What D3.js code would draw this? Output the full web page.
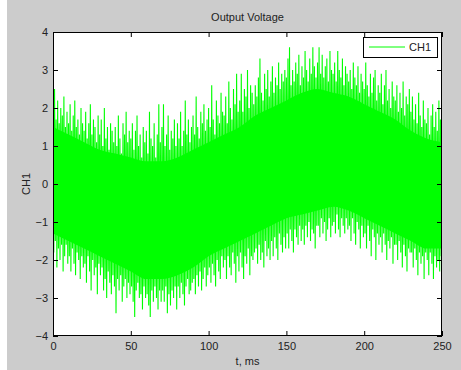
<!DOCTYPE html>
<html><head><meta charset="utf-8">
<script src="https://cdn.jsdelivr.net/npm/d3@7"></script>
<style>
html,body{margin:0;padding:0;background:#cccccc;}
svg{display:block;}
text{font-family:"Liberation Sans",Arial,sans-serif;}
</style></head>
<body><svg id="c" width="461" height="370"></svg>
<script>
const title = "Output Voltage";
const xLabel = "t, ms";
const yLabel = "CH1";
const seriesName = "CH1";
const xTicks = [0, 50, 100, 150, 200, 250];
const yTicks = [-4, -3, -2, -1, 0, 1, 2, 3, 4];
// dense core of the trace, read every 10 ms (t = 0..250)
const coreT = [0,10,20,30,40,50,60,70,80,90,100,110,120,130,140,150,160,170,180,190,200,210,220,230,240,250];
const coreTop = [1.5,1.3,1.1,0.9,0.8,0.7,0.6,0.6,0.7,0.9,1.1,1.3,1.5,1.8,2.0,2.2,2.4,2.5,2.4,2.3,2.1,1.9,1.7,1.4,1.2,1.1];
const coreBottom = [-1.3,-1.5,-1.7,-1.9,-2.1,-2.3,-2.5,-2.5,-2.4,-2.2,-1.9,-1.7,-1.5,-1.3,-1.1,-0.9,-0.8,-0.7,-0.6,-0.7,-0.9,-1.1,-1.3,-1.5,-1.7,-1.7];
// upper excursions, one per ms (t = 0..250)
const hi = [
1.9,2.5,1.7,2.2,1.6,2.0,1.8,2.3,1.5,1.9,
1.6,2.1,1.4,1.8,2.2,1.5,1.7,1.3,2.0,1.6,
1.4,1.9,1.2,1.6,2.1,1.3,1.7,1.5,1.1,1.8,
1.3,1.7,1.0,2.0,1.2,1.5,0.9,1.6,1.4,1.1,
1.5,1.0,1.8,1.2,0.8,1.6,1.3,1.9,1.1,1.4,
1.2,1.6,0.9,1.4,1.8,1.0,1.3,0.7,1.5,1.1,
1.4,0.8,1.9,1.2,1.0,1.6,0.7,1.3,2.1,1.1,
1.5,2.1,1.0,1.3,1.8,0.9,1.4,1.2,1.7,1.0,
1.6,1.2,1.9,1.0,1.4,2.2,1.3,1.7,1.1,1.5,
1.8,1.3,2.3,1.5,1.2,1.9,1.6,2.1,1.4,1.7,
2.0,1.5,2.6,1.7,1.3,2.2,1.8,1.6,2.4,1.9,
1.8,2.3,1.6,2.7,2.0,1.7,2.5,2.1,2.9,1.9,
2.2,2.9,1.9,2.5,2.3,3.0,2.0,2.6,2.4,2.1,
2.6,2.3,2.8,3.3,2.4,2.2,2.9,2.5,3.0,2.3,
2.7,3.1,2.4,2.8,2.6,3.2,2.5,2.9,2.7,3.0,
2.8,3.3,3.6,2.6,3.0,2.7,3.2,2.9,3.4,2.6,
3.1,2.8,3.5,3.0,2.7,3.3,2.9,3.6,3.1,2.8,
3.2,3.6,2.9,3.4,2.8,3.1,3.3,2.7,3.5,3.0,
2.9,3.2,2.7,3.5,3.0,2.8,3.3,2.6,3.1,2.9,
2.7,3.0,2.5,3.2,2.8,2.6,3.1,2.4,2.9,2.7,
2.5,3.2,2.6,2.3,2.9,2.4,2.8,3.0,2.2,2.6,
2.4,2.9,2.1,2.6,3.0,2.2,2.5,2.0,2.7,2.3,
2.2,2.6,1.9,2.4,2.0,2.7,1.8,2.3,2.1,2.5,
1.9,2.3,1.7,2.1,1.6,2.4,1.8,1.5,2.2,1.7,
1.6,2.0,1.3,1.8,2.1,1.5,1.9,1.4,2.2,1.7,
1.8];
// lower excursions, one per ms (t = 0.5..249.5)
const lo = [
-1.8,-1.5,-2.2,-1.7,-2.0,-1.6,-2.3,-1.9,-1.6,-2.1,
-1.9,-2.3,-1.7,-2.1,-2.4,-1.8,-2.0,-2.5,-1.9,-2.2,
-2.1,-2.6,-1.9,-2.3,-2.8,-2.0,-2.4,-2.2,-2.9,-2.1,
-2.4,-2.2,-2.8,-2.5,-3.0,-2.3,-2.6,-2.9,-2.4,-2.7,
-3.4,-2.5,-2.8,-2.4,-3.1,-2.7,-2.5,-3.0,-2.6,-2.9,
-2.7,-3.1,-3.5,-2.8,-2.6,-3.0,-2.9,-3.3,-2.7,-3.0,
-2.9,-3.2,-3.5,-2.8,-3.1,-2.7,-3.0,-3.3,-2.8,-3.1,
-2.8,-3.1,-2.7,-3.4,-2.9,-3.2,-2.8,-3.0,-2.7,-3.3,
-2.7,-3.0,-2.6,-2.9,-3.2,-2.7,-2.5,-2.9,-2.8,-2.6,
-2.5,-2.9,-2.4,-2.7,-2.3,-2.8,-2.5,-2.2,-2.7,-2.4,
-2.2,-2.6,-2.1,-2.4,-2.7,-2.0,-2.3,-2.5,-1.9,-2.2,
-2.0,-2.5,-1.9,-2.2,-2.4,-1.8,-2.1,-2.6,-1.9,-2.3,
-1.8,-2.2,-2.5,-1.9,-2.1,-1.7,-2.4,-1.9,-2.0,-1.8,
-1.7,-2.1,-1.6,-2.0,-1.8,-2.2,-1.5,-1.9,-1.7,-2.0,
-1.5,-1.9,-1.4,-1.7,-2.0,-1.3,-1.6,-1.8,-1.4,-1.7,
-1.3,-1.7,-1.2,-1.5,-1.8,-1.2,-1.4,-1.6,-1.1,-1.5,
-1.2,-1.6,-1.1,-1.4,-1.0,-1.5,-1.2,-1.3,-1.7,-1.1,
-1.1,-1.4,-0.9,-1.3,-1.0,-1.5,-1.2,-0.9,-1.4,-1.1,
-1.0,-1.3,-0.8,-1.2,-1.4,-0.9,-1.1,-1.3,-0.9,-1.2,
-1.1,-1.5,-0.9,-1.3,-1.6,-1.0,-1.2,-1.7,-1.1,-1.4,
-1.3,-1.7,-1.1,-1.5,-1.9,-1.2,-1.4,-2.0,-1.3,-1.6,
-1.4,-1.8,-1.3,-1.6,-2.0,-1.5,-1.7,-1.4,-2.1,-1.6,
-1.6,-2.0,-1.5,-1.8,-2.2,-1.6,-1.9,-2.3,-1.7,-1.8,
-1.8,-2.2,-1.7,-2.0,-2.4,-1.8,-2.1,-1.9,-2.5,-1.8,
-2.0,-2.4,-1.8,-2.1,-2.5,-1.9,-2.2,-2.0,-2.3,-1.9];

const svg = d3.select("#c");
svg.append("rect").attr("x",0).attr("y",0).attr("width",7).attr("height",370).attr("fill","#ffffff");

const L = 53, R = 442, T = 32, B = 336;
const x = d3.scaleLinear().domain([0,250]).range([L,R]);
const y = d3.scaleLinear().domain([-4,4]).range([B,T]);
const green = "#00ff00";

svg.append("rect").attr("x",L).attr("y",T).attr("width",R-L).attr("height",B-T).attr("fill","#fff");
svg.append("defs").append("clipPath").attr("id","clp").append("rect")
  .attr("x",L).attr("y",T).attr("width",R-L).attr("height",B-T);
const plot = svg.append("g").attr("clip-path","url(#clp)");

plot.append("path").datum(coreT.map((t,i)=>[t,coreTop[i],coreBottom[i]]))
  .attr("fill",green)
  .attr("d", d3.area().curve(d3.curveMonotoneX).x(d=>x(d[0])).y0(d=>y(d[2])).y1(d=>y(d[1])));

const pts = [];
for (let i = 0; i < hi.length; i++) {
  pts.push([i, hi[i]]);
  if (i < lo.length) pts.push([i + 0.5, lo[i]]);
}
plot.append("path").datum(pts)
  .attr("fill","none").attr("stroke",green).attr("stroke-width",1.1)
  .attr("d", d3.line().x(d=>x(d[0])).y(d=>y(d[1])));

const fs = 11;
const ax = (g)=>{g.selectAll("text").attr("font-size",fs).attr("fill","#222").attr("font-family","'Liberation Sans',Arial,sans-serif"); g.select(".domain").remove(); g.selectAll("line").attr("stroke","#000");};
svg.append("g").attr("transform",`translate(0,${B})`)
  .call(d3.axisBottom(x).tickValues(xTicks).tickSize(-5).tickPadding(6)).call(ax);
svg.append("g").attr("transform",`translate(0,${T})`)
  .call(d3.axisTop(x).tickValues(xTicks).tickSize(-5).tickFormat("")).call(ax);
svg.append("g").attr("transform",`translate(${L},0)`)
  .call(d3.axisLeft(y).tickValues(yTicks).tickSize(-5).tickPadding(5)).call(ax);
svg.append("g").attr("transform",`translate(${R},0)`)
  .call(d3.axisRight(y).tickValues(yTicks).tickSize(-5).tickFormat("")).call(ax);
svg.append("rect").attr("x",L+0.5).attr("y",T+0.5).attr("width",R-L-1).attr("height",B-T-1)
  .attr("fill","none").attr("stroke","#000").attr("stroke-width",1);

svg.append("text").attr("x",(L+R)/2).attr("y",21).attr("text-anchor","middle").attr("font-size",fs).attr("fill","#222").text(title);
svg.append("text").attr("x",(L+R)/2).attr("y",365).attr("text-anchor","middle").attr("font-size",fs).attr("fill","#222").text(xLabel);
svg.append("text").attr("transform",`translate(30,${(T+B)/2}) rotate(-90)`).attr("text-anchor","middle").attr("font-size",fs).attr("fill","#222").text(yLabel);

const lg = svg.append("g");
lg.append("rect").attr("x",363.5).attr("y",37.5).attr("width",74).attr("height",20).attr("fill","#fff").attr("stroke","#000");
lg.append("line").attr("x1",369).attr("x2",405).attr("y1",47).attr("y2",47).attr("stroke",green);
lg.append("text").attr("x",409).attr("y",51).attr("font-size",fs).attr("fill","#222").text(seriesName);
</script></body></html>
